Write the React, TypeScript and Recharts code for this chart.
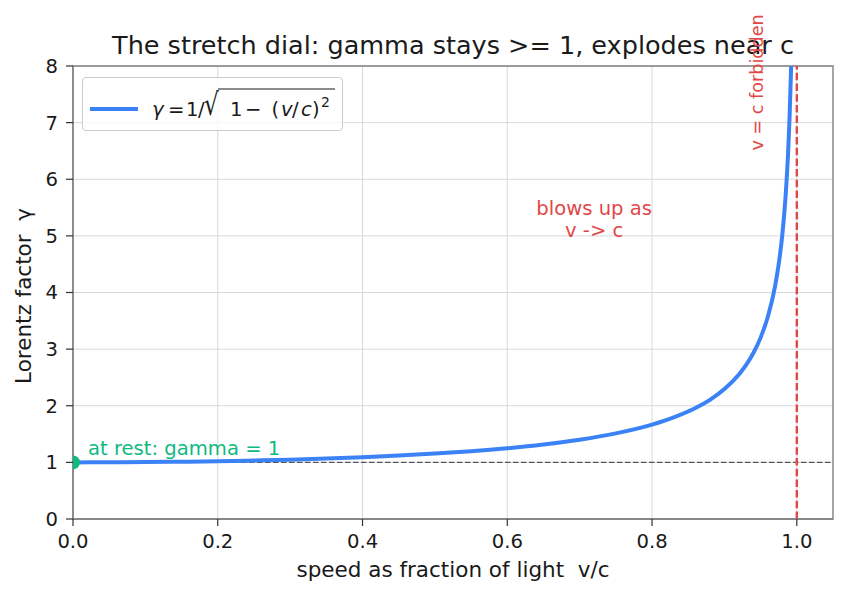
import React from "react";
import {
  LineChart,
  Line,
  XAxis,
  YAxis,
  CartesianGrid,
  ReferenceLine,
  ReferenceDot,
  ReferenceArea,
  Legend,
  Label,
} from "recharts";

// speed as fraction of c
const speeds = [
  0, 0.05, 0.1, 0.15, 0.2, 0.25, 0.3, 0.35, 0.4, 0.45, 0.5, 0.55, 0.6, 0.65,
  0.7, 0.75, 0.8, 0.83, 0.86, 0.88, 0.9, 0.92, 0.93, 0.94, 0.95, 0.96, 0.97,
  0.975, 0.98, 0.985, 0.988, 0.99, 0.992, 0.994,
];
// Lorentz factor
const gammas = [
  1.0, 1.001, 1.005, 1.011, 1.021, 1.033, 1.048, 1.068, 1.091, 1.12, 1.155,
  1.197, 1.25, 1.316, 1.4, 1.512, 1.667, 1.795, 1.96, 2.105, 2.294, 2.552,
  2.721, 2.931, 3.203, 3.571, 4.113, 4.502, 5.025, 5.795, 6.474, 7.089, 7.921,
  9.142,
];
const xTicks = [0, 0.2, 0.4, 0.6, 0.8, 1.0];
const yTicks = [0, 1, 2, 3, 4, 5, 6, 7, 8];

const data = speeds.map((v, i) => ({ v, gamma: gammas[i] }));

const BLUE = "#3b82f6";
const GREEN = "#10b981";
const RED = "#e04848";
const INK = "#1a1a1a";
const FONT = "DejaVu Sans, sans-serif";
const TICK_FS = 19.6;
const LABEL_FS = 21.5;
const NOTE_FS = 19.6;

const LegendBox = () => (
  <div
    style={{
      width: 259,
      height: 52,
      border: "1px solid #cccccc",
      borderRadius: 4,
      background: "rgba(255,255,255,0.8)",
      boxSizing: "content-box",
    }}
  >
    <svg width={259} height={52} style={{ display: "block" }}>
      <line x1={7} x2={55} y1={31} y2={31} stroke={BLUE} strokeWidth={4} />
      <text y={38} fontSize={19.6} fontFamily={FONT} fill={INK}>
        <tspan x={69} fontStyle="italic">γ</tspan>
        <tspan x={85}>=</tspan>
        <tspan x={103}>1</tspan>
        <tspan x={115}>/</tspan>
        <tspan x={147}>1</tspan>
        <tspan x={162}>−</tspan>
        <tspan x={188.5}>(</tspan>
        <tspan x={198} fontStyle="italic">v</tspan>
        <tspan x={209}>/</tspan>
        <tspan x={218} fontStyle="italic">c</tspan>
        <tspan x={229}>)</tspan>
        <tspan x={238} fontSize={14} dy={-9}>2</tspan>
      </text>
      <text
        transform="translate(121 37) scale(1.05 1.4)"
        fontSize={22}
        fontFamily={FONT}
        fill={INK}
      >
        √
      </text>
      <line x1={135} x2={252} y1={11} y2={11} stroke={INK} strokeWidth={1.1} />
    </svg>
  </div>
);

export default function App() {
  return (
    <div style={{ position: "absolute", left: 0, top: 0, width: 846, height: 595, background: "#fff" }}>
      <div
        style={{
          position: "absolute",
          left: 73,
          width: 760,
          top: 30,
          textAlign: "center",
          fontFamily: FONT,
          fontSize: 25.5,
          lineHeight: "30px",
          color: INK,
          whiteSpace: "nowrap",
        }}
      >
        The stretch dial: gamma stays &gt;= 1, explodes near c
      </div>
      <LineChart
        width={846}
        height={595}
        data={data}
        margin={{ top: 66, right: 13, bottom: 0, left: 0 }}
        style={{ position: "absolute", left: 0, top: 0 }}
      >
        <CartesianGrid stroke="#d6d9dc" strokeWidth={1} />
        <XAxis
          dataKey="v"
          type="number"
          domain={[0, 1.05]}
          ticks={xTicks}
          allowDataOverflow
          tickFormatter={(t: number) => t.toFixed(1)}
          height={76}
          tickSize={7}
          tickMargin={8}
          axisLine={{ stroke: "#808080", strokeWidth: 1.3 }}
          tickLine={{ stroke: "#333", strokeWidth: 1.2 }}
          tick={{ fill: INK, fontSize: TICK_FS, fontFamily: FONT }}
        >
          <Label
            value={"speed as fraction of light\u00a0 v/c"}
            position="insideBottom"
            offset={18}
            style={{ fill: INK, fontSize: LABEL_FS, fontFamily: FONT }}
          />
        </XAxis>
        <YAxis
          type="number"
          domain={[0, 8]}
          ticks={yTicks}
          allowDataOverflow
          width={73}
          tickSize={7}
          tickMargin={8}
          axisLine={{ stroke: "#808080", strokeWidth: 1.3 }}
          tickLine={{ stroke: "#333", strokeWidth: 1.2 }}
          tick={{ fill: INK, fontSize: TICK_FS, fontFamily: FONT }}
        >
          <Label
            content={() => (
              <text
                x={31}
                y={296}
                transform="rotate(-90 31 296)"
                textAnchor="middle"
                fontSize={LABEL_FS}
                fontFamily={FONT}
                fill={INK}
                style={{ whiteSpace: "pre" }}
              >
                {"Lorentz factor  γ"}
              </text>
            )}
          />
        </YAxis>
        <ReferenceArea
          x1={0}
          x2={1.05}
          y1={0}
          y2={8}
          fill="none"
          stroke="#808080"
          strokeWidth={1.3}
          ifOverflow="visible"
        />
        <ReferenceLine
          y={1}
          stroke="#555"
          strokeWidth={1.2}
          strokeDasharray="5.5 2.5"
        />
        <ReferenceLine
          x={1}
          stroke={RED}
          strokeWidth={2.4}
          strokeDasharray="7.5 3.2"
        />
        <Line
          type="monotone"
          dataKey="gamma"
          stroke={BLUE}
          strokeWidth={4}
          dot={false}
          isAnimationActive={false}
          legendType="line"
        />
        <ReferenceDot
          x={0}
          y={1}
          r={7}
          fill={GREEN}
          stroke="none"
          ifOverflow="hidden"
        />
        <ReferenceDot
          x={0.0207}
          y={1.13}
          r={0}
          ifOverflow="visible"
          label={(props: any) => {
            const x = props.viewBox.x + (props.viewBox.width || 0) / 2;
            const y = props.viewBox.y + (props.viewBox.height || 0) / 2;
            return (
              <text x={x} y={y} fontSize={NOTE_FS} fontFamily={FONT} fill={GREEN}>
                at rest: gamma = 1
              </text>
            );
          }}
        />
        <ReferenceDot
          x={0.72}
          y={5.28}
          r={0}
          ifOverflow="visible"
          label={(props: any) => {
            const cx = props.viewBox.x + (props.viewBox.width || 0) / 2;
            const cy = props.viewBox.y + (props.viewBox.height || 0) / 2;
            return (
              <text
                x={cx}
                y={cy}
                textAnchor="middle"
                fontSize={NOTE_FS}
                fontFamily={FONT}
                fill={RED}
              >
                <tspan x={cx} dy={-5}>blows up as</tspan>
                <tspan x={cx} dy={22}>v -&gt; c</tspan>
              </text>
            );
          }}
        />
        <ReferenceDot
          x={0.953}
          y={7.71}
          r={0}
          ifOverflow="visible"
          label={(props: any) => {
            const cx = props.viewBox.x + (props.viewBox.width || 0) / 2;
            const cy = props.viewBox.y + (props.viewBox.height || 0) / 2;
            return (
              <text
                x={cx}
                y={cy}
                transform={`rotate(-90 ${cx} ${cy})`}
                textAnchor="middle"
                fontSize={17.6}
                fontFamily={FONT}
                fill={RED}
              >
                v = c forbidden
              </text>
            );
          }}
        />
        <Legend
          layout="horizontal"
          verticalAlign="middle"
          align="center"
          content={() => <LegendBox />}
          wrapperStyle={{ position: "absolute", left: 82, top: 77, width: 261, height: 54 }}
        />
      </LineChart>
    </div>
  );
}
